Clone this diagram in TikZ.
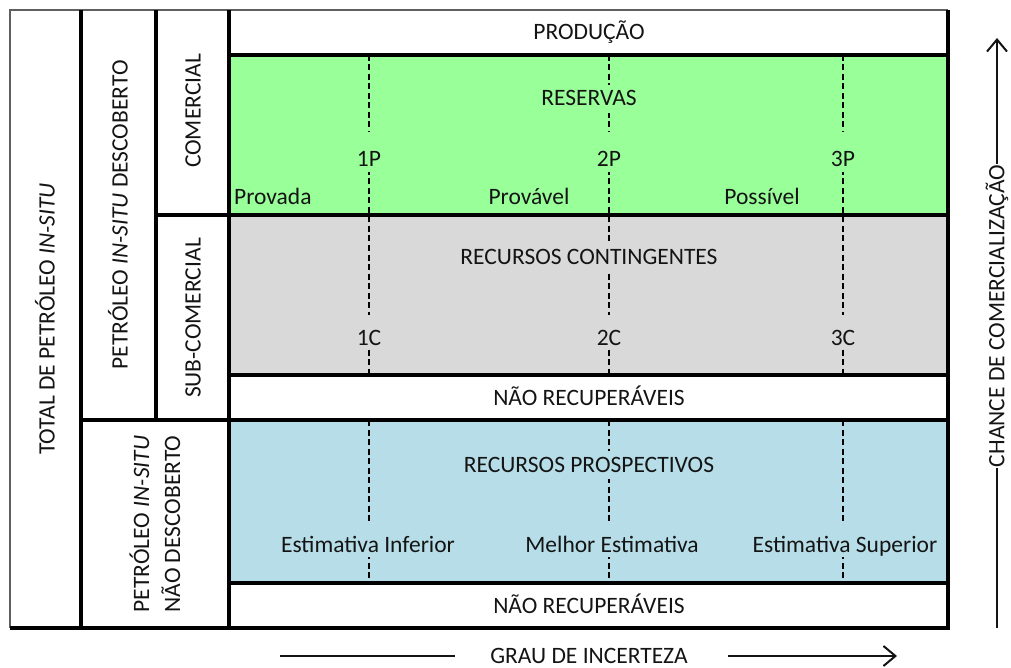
\documentclass[tikz,border=0pt]{standalone}
\usepackage{fontspec}
\setmainfont{Carlito}
\usetikzlibrary{arrows.meta}
\definecolor{resgreen}{RGB}{153,255,153}
\definecolor{contgray}{RGB}{217,217,217}
\definecolor{prospblue}{RGB}{183,222,232}
\definecolor{thinline}{RGB}{95,95,95}
\definecolor{ink}{RGB}{20,20,20}
\begin{document}
\begin{tikzpicture}[x=1pt,y=-1pt,
  every node/.style={font=\fontsize{23.5}{31}\selectfont, text=ink, inner sep=2pt},
  thickborder/.style={line width=4pt, line cap=rect, draw=black},
  thinborder/.style={line width=1.5pt, draw=thinline},
  divider/.style={line width=2.8pt, dash pattern=on 6pt off 3.5pt, draw=black},
  lbl/.style={anchor=base},
  cut/.style={anchor=base, inner sep=0pt, fill=#1},
  axisline/.style={line width=2pt, draw=ink},
  axisarrow/.style={axisline, -{Straight Barb[length=12pt,width=20pt,line width=2pt]}}
]
\useasboundingbox (0,0) rectangle (1011,668);

% region fills
\fill[resgreen] (229,55) rectangle (948,215);
\fill[contgray] (229,215) rectangle (948,375);
\fill[prospblue] (229,420) rectangle (948,583);

% dashed dividers
\foreach \n/\x in {a/369,b/609,c/843}{
  \coordinate (\n1) at (\x,55);
  \coordinate (\n2) at (\x,375);
  \coordinate (\n3) at (\x,420);
  \coordinate (\n4) at (\x,579);
  \draw[divider] (\n1) -- (\n2);
  \draw[divider] (\n3) -- (\n4);
}

% labels in the coloured area
\node[lbl] (prod) at (589,39.5) {PRODUÇÃO};
\node[cut=resgreen, text height=21pt, text depth=7pt, inner xsep=3pt] (res) at (589,106) {RESERVAS};
\node[cut=resgreen, text height=35pt, text depth=5pt] (p1) at (369,167) {1P};
\node[cut=resgreen, text height=35pt, text depth=5pt] (p2) at (609,167) {2P};
\node[cut=resgreen, text height=35pt, text depth=5pt] (p3) at (843,167) {3P};
\node[lbl, anchor=base west, inner sep=0pt] (provada) at (234,205) {Provada};
\node[lbl] (provavel) at (529,205) {Provável};
\node[lbl] (possivel) at (762,205) {Possível};

\node[cut=contgray, text height=21pt, text depth=7pt, inner xsep=3pt] (cont) at (589,264) {RECURSOS CONTINGENTES};
\node[cut=contgray, text height=30pt, text depth=3pt] (c1) at (369,345) {1C};
\node[cut=contgray, text height=30pt, text depth=3pt] (c2) at (609,345) {2C};
\node[cut=contgray, text height=30pt, text depth=3pt] (c3) at (843,345) {3C};
\node[lbl] (nrec1) at (589,405) {NÃO RECUPERÁVEIS};

\node[cut=prospblue, text height=21pt, text depth=7pt, inner xsep=3pt] (prosp) at (589,472) {RECURSOS PROSPECTIVOS};
\node[cut=prospblue, text height=27pt, text depth=5pt] (e1) at (368,552) {Estimativa Inferior};
\node[cut=prospblue, text height=27pt, text depth=5pt] (e2) at (612,552) {Melhor Estimativa};
\node[cut=prospblue, text height=27pt, text depth=5pt] (e3) at (845,552) {Estimativa Superior};
\node[lbl] (nrec2) at (589,613) {NÃO RECUPERÁVEIS};

% left column texts
\node[rotate=90] (total) at (45,319) {TOTAL DE PETRÓLEO \textit{IN-SITU}};
\node[rotate=90] (desc) at (118,215) {PETRÓLEO \textit{IN-SITU} DESCOBERTO};
\node[rotate=90] (com) at (193,111) {COMERCIAL};
\node[rotate=90] (sub) at (193,318) {SUB-COMERCIAL};
\node[rotate=90, align=center] (ndesc) at (155,524) {PETRÓLEO \textit{IN-SITU}\\NÃO DESCOBERTO};

% borders
\draw[thinborder] (10,628) -- (10,10) -- (948,10);
\draw[thickborder] (81,12) -- (81,628);
\draw[thickborder] (156,12) -- (156,420);
\draw[thickborder] (229,12) -- (229,628);
\draw[thickborder] (948,12) -- (948,628);
\draw[thickborder] (229,55) -- (948,55);
\draw[thickborder] (156,215) -- (948,215);
\draw[thickborder] (229,375) -- (948,375);
\draw[thickborder] (81,420) -- (948,420);
\draw[thickborder] (229,583) -- (948,583);
\draw[thickborder] (12,628) -- (948,628);

% vertical axis
\node[rotate=90, inner sep=1pt] (chance) at (997,316) {CHANCE DE COMERCIALIZAÇÃO};
\coordinate (cb) at (997,628);
\coordinate (ct) at (997,38);
\draw[axisline] (cb) -- (chance.west);
\draw[axisarrow] (chance.east) -- (ct);

% horizontal axis
\node[lbl, inner sep=0pt] (grau) at (589,663) {GRAU DE INCERTEZA};
\coordinate (g1) at (280,656);
\coordinate (g2) at (455,656);
\coordinate (g3) at (728,656);
\coordinate (g4) at (897,656);
\draw[axisline] (g1) -- (g2);
\draw[axisarrow] (g3) -- (g4);
\end{tikzpicture}
\end{document}
